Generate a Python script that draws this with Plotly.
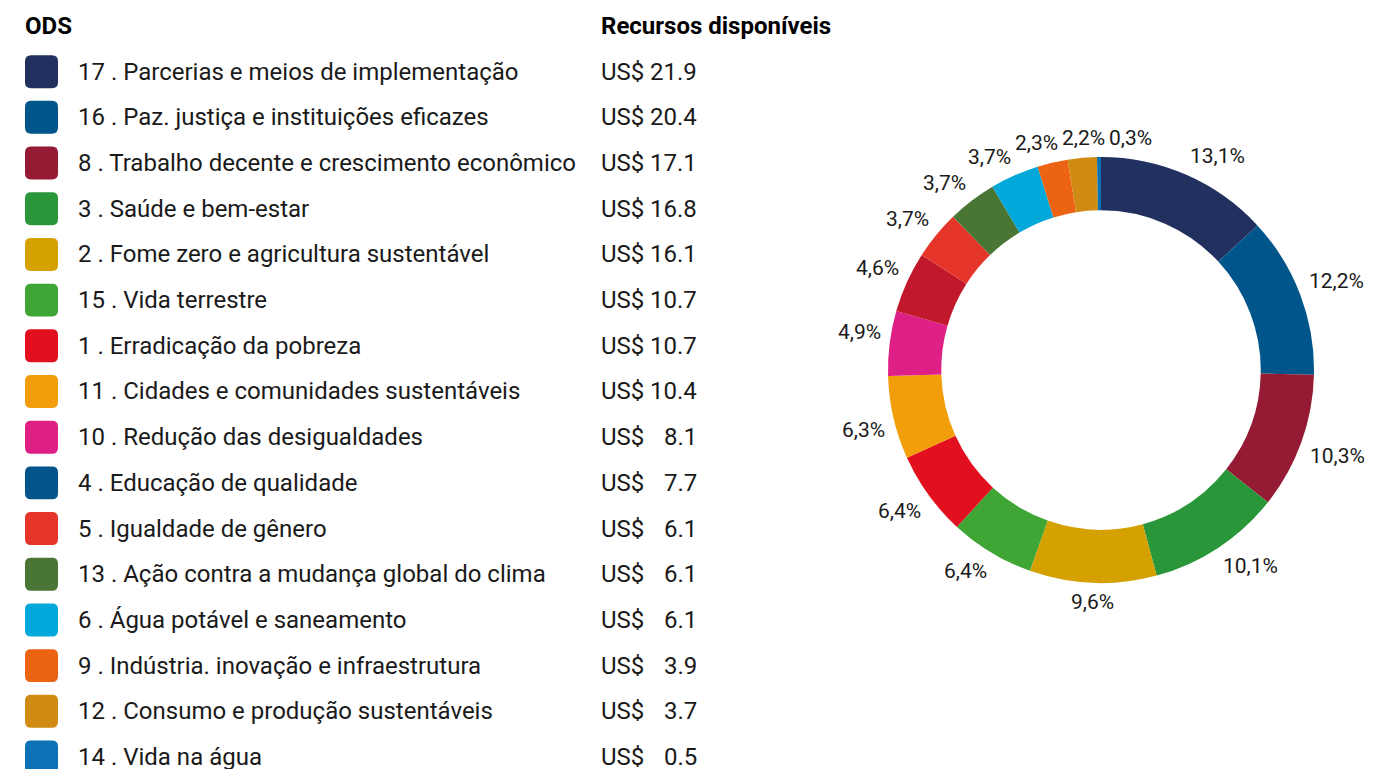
import math
import plotly.graph_objects as go

# ODS (Objetivos de Desenvolvimento Sustentável) e recursos disponíveis
ods_labels = [
    "17 . Parcerias e meios de implementação",
    "16 . Paz. justiça e instituições eficazes",
    "8 . Trabalho decente e crescimento econômico",
    "3 . Saúde e bem-estar",
    "2 . Fome zero e agricultura sustentável",
    "15 . Vida terrestre",
    "1 . Erradicação da pobreza",
    "11 . Cidades e comunidades sustentáveis",
    "10 . Redução das desigualdades",
    "4 . Educação de qualidade",
    "5 . Igualdade de gênero",
    "13 . Ação contra a mudança global do clima",
    "6 . Água potável e saneamento",
    "9 . Indústria. inovação e infraestrutura",
    "12 . Consumo e produção sustentáveis",
    "14 . Vida na água",
]
recursos = [21.9, 20.4, 17.1, 16.8, 16.1, 10.7, 10.7, 10.4, 8.1, 7.7, 6.1, 6.1, 6.1, 3.9, 3.7, 0.5]
percentuais = [13.1, 12.2, 10.3, 10.1, 9.6, 6.4, 6.4, 6.3, 4.9, 4.6, 3.7, 3.7, 3.7, 2.3, 2.2, 0.3]

cores_tabela = [
    "#21305E", "#00558A", "#941B33", "#299739", "#D4A101", "#3FA535", "#E2101F", "#F29E0A",
    "#DE1F86", "#02548A", "#E5352A", "#497635", "#01A8D9", "#EC6314", "#CF8B13", "#0A72B5",
]
cores_rosca = [
    "#21305E", "#00558A", "#941B33", "#299739", "#D4A101", "#3FA535", "#E2101F", "#F29E0A",
    "#DE1F86", "#C1192B", "#E5352A", "#497635", "#01A8D9", "#EC6314", "#CF8B13", "#0A72B5",
]

W, H = 1392, 769
FONT = "Roboto"
TXT = "#1a1a1a"

# Geometria da rosca (pixels)
PIE_X0, PIE_X1 = 888, 1314
PIE_Y0, PIE_Y1 = 157, 583
CX, CY = (PIE_X0 + PIE_X1) / 2, (PIE_Y0 + PIE_Y1) / 2
R_OUT = (PIE_X1 - PIE_X0) / 2
R_LAB = R_OUT + 9
PCT_SIZE = 21

fig = go.Figure()

fig.add_trace(go.Pie(
    values=percentuais,
    labels=ods_labels,
    textinfo="none",
    marker=dict(colors=cores_rosca, line=dict(width=0)),
    hole=0.75,
    sort=False,
    direction="clockwise",
    rotation=0,
    showlegend=False,
    domain=dict(x=[PIE_X0 / W, PIE_X1 / W], y=[1 - PIE_Y1 / H, 1 - PIE_Y0 / H]),
    hoverinfo="label+percent",
))


def text_width(s, size):
    adv = {",": 0.196, "%": 0.732, ".": 0.263}
    return sum(adv.get(c, 0.562) for c in s) * size


# Rótulos percentuais fora da rosca, ancorados pelo canto junto à fatia
total = sum(percentuais)
boxes = []
acc = 0.0
for p in percentuais:
    theta = 2 * math.pi * (acc + p / 2) / total
    acc += p
    s, c = math.sin(theta), math.cos(theta)
    txt = f"{p:.1f}%".replace(".", ",")
    w, h = text_width(txt, PCT_SIZE), PCT_SIZE
    px, py = CX + R_LAB * s, CY - R_LAB * c
    dx = 0 if abs(s) < 0.05 else (w / 2 if s > 0 else -w / 2)
    dy = 0 if abs(c) < 0.05 else (-h / 2 if c > 0 else h / 2)
    bx, by = px + dx, py + dy
    # evita sobreposição com rótulos já colocados
    for (ox, oy, ow, oh) in boxes:
        if abs(bx - ox) < (w + ow) / 2 + 4 and abs(by - oy) < (h + oh) / 2:
            if c > 0:
                bx = ox + (w + ow) / 2 + 4
            else:
                bx = ox - (w + ow) / 2 - 4
    boxes.append((bx, by, w, h))
    fig.add_annotation(x=bx / W, y=1 - by / H, xref="paper", yref="paper", text=txt,
                       showarrow=False, xanchor="center", yanchor="middle",
                       font=dict(family=FONT, size=PCT_SIZE, color=TXT))

# Tabela lateral: eixo x em pixels, eixo y em linhas
COL_BOX0, COL_BOX1 = 25, 58
COL_LABEL = 76
COL_US = 599
COL_NUM = 699
ROW_PX = 45.73
half = 16.5 / ROW_PX
rx, ry = 6, 6 / ROW_PX

shapes = []
for i, cor in enumerate(cores_tabela):
    x0, x1 = COL_BOX0, COL_BOX1
    y0, y1 = i - half, i + half
    path = (f"M {x0 + rx},{y0} L {x1 - rx},{y0} Q {x1},{y0} {x1},{y0 + ry} "
            f"L {x1},{y1 - ry} Q {x1},{y1} {x1 - rx},{y1} L {x0 + rx},{y1} "
            f"Q {x0},{y1} {x0},{y1 - ry} L {x0},{y0 + ry} Q {x0},{y0} {x0 + rx},{y0} Z")
    shapes.append(dict(type="path", xref="x", yref="y", path=path,
                       fillcolor=cor, line=dict(width=0), layer="above"))

annotations = [
    dict(x=COL_BOX0 - 2, y=-1, text="<b>ODS</b>", xanchor="left", yanchor="middle",
         font=dict(family=FONT, size=24, color="#000")),
    dict(x=COL_US, y=-1, text="<b>Recursos disponíveis</b>", xanchor="left", yanchor="middle",
         font=dict(family=FONT, size=24, color="#000")),
]
for i, (lab, val) in enumerate(zip(ods_labels, recursos)):
    annotations.append(dict(x=COL_LABEL, y=i, text=lab, xanchor="left", yanchor="middle",
                            font=dict(family=FONT, size=24, color=TXT)))
    annotations.append(dict(x=COL_US, y=i, text="US$", xanchor="left", yanchor="middle",
                            font=dict(family=FONT, size=24, color=TXT)))
    annotations.append(dict(x=COL_NUM, y=i, text=f"{val:.1f}", xanchor="right", yanchor="middle",
                            font=dict(family=FONT, size=24, color=TXT)))
for a in annotations:
    a.update(xref="x", yref="y", showarrow=False)
    fig.add_annotation(**a)

fig.update_layout(
    width=W, height=H,
    margin=dict(l=0, r=0, t=0, b=0),
    paper_bgcolor="white", plot_bgcolor="white",
    font=dict(family=FONT, color=TXT),
    xaxis=dict(range=[0, W], domain=[0, 1], visible=False, fixedrange=True),
    yaxis=dict(range=[15 + (H - 757) / ROW_PX, -1 - 26 / ROW_PX], domain=[0, 1],
               visible=False, fixedrange=True),
    shapes=shapes,
    showlegend=False,
)

fig.write_html("out.html")
